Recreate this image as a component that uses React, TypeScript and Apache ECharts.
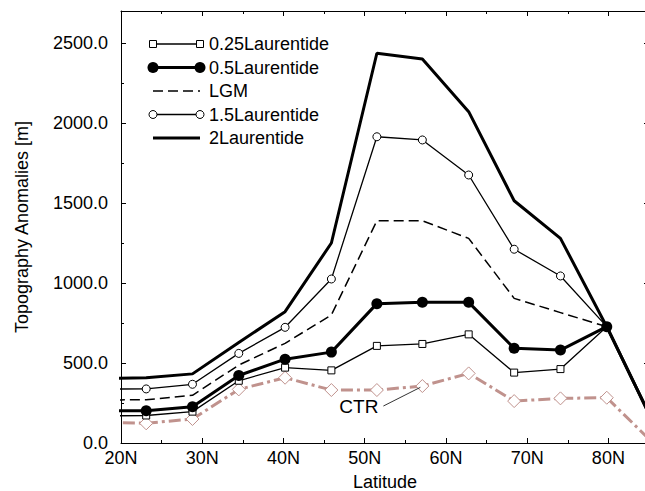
import React, { useEffect, useRef } from "react";
import * as echarts from "echarts";

const LATS = [17.4, 23.1, 28.8, 34.5, 40.2, 45.9, 51.5, 57.1, 62.8, 68.4, 74.1, 79.8, 85.5];
const L025 = [169, 172, 196, 389, 471, 454, 607, 619, 679, 440, 462, 727, 130];
const L05 = [202, 202, 227, 422, 524, 568, 871, 879, 879, 592, 581, 727, 130];
const LGM = [269, 270, 298, 487, 623, 800, 1389, 1389, 1279, 904, 815, 727, 130];
const L15 = [337, 338, 367, 560, 723, 1025, 1914, 1894, 1675, 1211, 1044, 727, 130];
const L2 = [402, 408, 432, 628, 821, 1250, 2436, 2400, 2071, 1514, 1279, 727, 130];
const CTR = [131, 123, 150, 335, 408, 331, 331, 356, 435, 262, 279, 283, 0];

const X_MIN = 20;
const X_MAX = 85;
const Y_MIN = 0;
const Y_MAX = 2700;
const X_LABEL_STEP = 10;
const Y_LABEL_STEP = 500;

const LEGEND_NAMES = ["0.25Laurentide", "0.5Laurentide", "LGM", "1.5Laurentide", "2Laurentide"];
const CTR_NAME = "CTR";

const FONT = "'Liberation Sans', Arial, Helvetica, sans-serif";
const CTR_COLOR = "#c0928d";
const FS = 18;

const CHART_W = 660;
const CHART_H = 491;

function pts(vals: number[]) {
  return LATS.map((x, i) => [x, vals[i]]);
}

export default function App() {
  const ref = useRef<HTMLDivElement>(null);

  useEffect(() => {
    document.body.style.margin = "0";
    document.body.style.overflow = "hidden";
    if (!ref.current) return;
    const chart = echarts.init(ref.current, null, { renderer: "svg" });

    const axisBase = (extra: any) => ({
      type: "value",
      splitLine: { show: false },
      axisLine: { show: false, onZero: false, lineStyle: { color: "#000", width: 1 } },
      axisTick: { show: true, inside: true, length: 5, lineStyle: { color: "#000", width: 1 } },
      axisLabel: { show: false },
      ...extra,
    });
    const minorTick = { show: true, inside: true, length: 3, lineStyle: { color: "#000", width: 1 } };
    const mainLine = { show: true, onZero: false, lineStyle: { color: "#000", width: 1 } };

    const xAxes = [
      axisBase({
        min: X_MIN, max: X_MAX, interval: X_LABEL_STEP, position: "bottom",
        axisLine: mainLine,
        axisLabel: {
          show: true, fontSize: FS, color: "#000", fontFamily: FONT, margin: 6,
          formatter: (v: number) => (v % X_LABEL_STEP === 0 && v <= 80 ? v + "N" : ""),
        },
        name: "Latitude", nameLocation: "middle", nameGap: 30,
        nameTextStyle: { fontSize: FS, color: "#000", fontFamily: FONT },
      }),
      axisBase({ min: X_MIN, max: X_MAX, interval: 5, position: "bottom", axisTick: minorTick }),
      axisBase({ min: X_MIN, max: X_MAX, interval: X_LABEL_STEP, position: "top", axisLine: mainLine }),
      axisBase({ min: X_MIN, max: X_MAX, interval: 5, position: "top", axisTick: minorTick }),
    ];

    const yAxes = [
      axisBase({
        min: Y_MIN, max: Y_MAX, interval: Y_LABEL_STEP, position: "left",
        axisLine: mainLine,
        axisLabel: {
          show: true, fontSize: FS, color: "#000", fontFamily: FONT, margin: 13,
          formatter: (v: number) => (v % Y_LABEL_STEP === 0 && v <= 2500 ? v.toFixed(1) : ""),
        },
        name: "Topography Anomalies [m]", nameLocation: "middle", nameGap: 90, nameRotate: 90,
        nameTextStyle: { fontSize: FS, color: "#000", fontFamily: FONT },
      }),
      axisBase({ min: Y_MIN, max: Y_MAX, interval: 250, position: "left", axisTick: minorTick }),
      axisBase({ min: Y_MIN, max: Y_MAX, interval: Y_LABEL_STEP, position: "right", axisLine: mainLine }),
      axisBase({ min: Y_MIN, max: Y_MAX, interval: 250, position: "right", axisTick: minorTick }),
    ];

    const common = { type: "line", xAxisIndex: 0, yAxisIndex: 0, clip: true, silent: true, emphasis: { disabled: true } };

    const series: any[] = [
      {
        ...common, name: CTR_NAME, data: pts(CTR), symbol: "diamond", symbolSize: 13,
        itemStyle: { color: "#fff", borderColor: CTR_COLOR, borderWidth: 1 },
        lineStyle: { color: CTR_COLOR, width: 3, type: [12, 4, 3, 4] }, z: 2,
      },
      {
        ...common, name: LEGEND_NAMES[4], data: pts(L2), symbol: "none",
        lineStyle: { color: "#000", width: 3 }, z: 3,
      },
      {
        ...common, name: LEGEND_NAMES[2], data: pts(LGM), symbol: "none",
        lineStyle: { color: "#000", width: 1.5, type: [10, 5] }, z: 3,
      },
      {
        ...common, name: LEGEND_NAMES[3], data: pts(L15), symbol: "circle", symbolSize: 8,
        itemStyle: { color: "#fff", borderColor: "#000", borderWidth: 1 },
        lineStyle: { color: "#000", width: 1.3 }, z: 4,
      },
      {
        ...common, name: LEGEND_NAMES[0], data: pts(L025), symbol: "rect", symbolSize: 7,
        itemStyle: { color: "#fff", borderColor: "#000", borderWidth: 1 },
        lineStyle: { color: "#000", width: 1.3 }, z: 4,
      },
      {
        ...common, name: LEGEND_NAMES[1], data: pts(L05), symbol: "circle", symbolSize: 11,
        itemStyle: { color: "#000" },
        lineStyle: { color: "#000", width: 3 }, z: 5,
      },
    ];

    const lx0 = 153, lx1 = 200, ly0 = 44, ldy = 23.5, tx = 209;
    const legend: any[] = [];
    LEGEND_NAMES.forEach((name, i) => {
      const y = ly0 + i * ldy;
      const lw = i === 1 || i === 4 ? 3 : i === 2 ? 1.5 : 1.3;
      legend.push({
        type: "line", shape: { x1: lx0, y1: y, x2: lx1, y2: y },
        style: { stroke: "#000", lineWidth: lw, lineDash: i === 2 ? [10, 5] : null },
      });
      if (i === 0) {
        [lx0, lx1].forEach((cx) => legend.push({
          type: "rect", shape: { x: cx - 3.5, y: y - 3.5, width: 7, height: 7 },
          style: { fill: "#fff", stroke: "#000", lineWidth: 1 },
        }));
      } else if (i === 1) {
        [lx0, lx1].forEach((cx) => legend.push({
          type: "circle", shape: { cx, cy: y, r: 5.5 }, style: { fill: "#000" },
        }));
      } else if (i === 3) {
        [lx0, lx1].forEach((cx) => legend.push({
          type: "circle", shape: { cx, cy: y, r: 4 }, style: { fill: "#fff", stroke: "#000", lineWidth: 1 },
        }));
      }
      legend.push({
        type: "text", x: tx, y,
        style: { text: name, fontSize: FS, fontFamily: FONT, fill: "#000", verticalAlign: "middle", align: "left" },
      });
    });

    const option: any = {
      animation: false,
      backgroundColor: "#fff",
      grid: { left: 121, right: CHART_W - 649, top: 11, bottom: 48, containLabel: false, outerBoundsMode: "none" },
      xAxis: xAxes,
      yAxis: yAxes,
      series,
      graphic: legend,
    };
    chart.setOption(option);

    const anchor = chart.convertToPixel({ seriesIndex: 0 } as any, [LATS[7], CTR[7]]) as number[];
    if (anchor) {
      const [ax, ay] = anchor;
      chart.setOption({
        graphic: [
          ...legend,
          {
            type: "line", shape: { x1: ax - 39, y1: ay + 20, x2: ax - 2, y2: ay + 1.3 },
            style: { stroke: "#000", lineWidth: 0.8 }, z: 10,
          },
          {
            type: "text", x: ax - 63.5, y: ay + 20.7,
            style: { text: CTR_NAME, fontSize: 19, fontFamily: FONT, fill: "#000", align: "center", verticalAlign: "middle" },
            z: 10,
          },
        ],
      });
    }

    return () => chart.dispose();
  }, []);

  return <div ref={ref} style={{ position: "fixed", left: 0, top: 0, width: CHART_W, height: CHART_H }} />;
}
